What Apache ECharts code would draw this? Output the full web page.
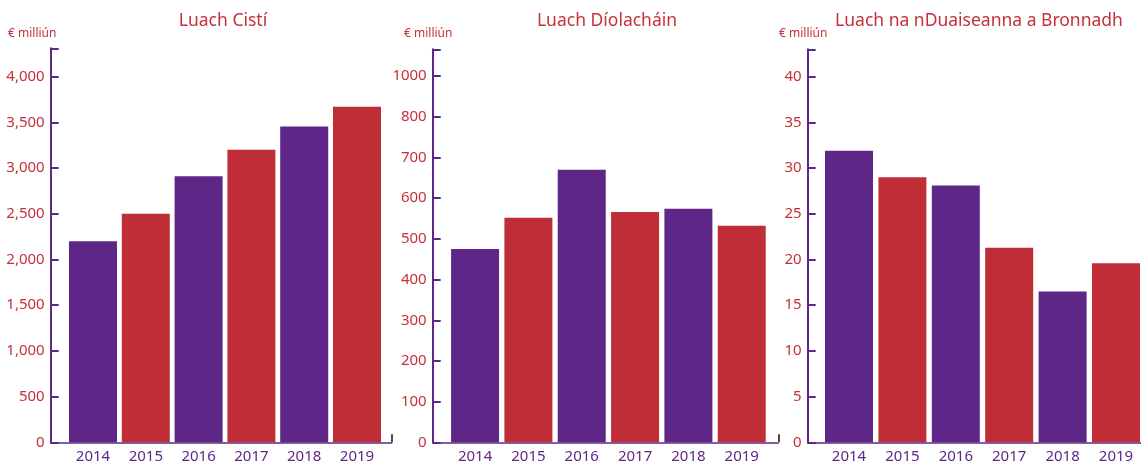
<!DOCTYPE html>
<html>
<head>
<meta charset="utf-8">
<script src="https://cdn.jsdelivr.net/npm/echarts@6/dist/echarts.min.js"></script>
<style>
  html, body { margin: 0; padding: 0; background: #fff; }
  #chart { width: 1141px; height: 461px; }
</style>
</head>
<body>
<div id="chart"></div>
<script>
const years = ['2014', '2015', '2016', '2017', '2018', '2019'];
const cisti = [2200, 2500, 2910, 3200, 3455, 3670];
const diolachain = [475, 552, 670, 566, 574, 532];
const duaiseanna = [31.9, 29, 28.1, 21.3, 16.5, 19.6];

const ticksCisti = ['0', '500', '1,000', '1,500', '2,000', '2,500', '3,000', '3,500', '4,000'];
const ticksDiol = ['0', '100', '200', '300', '400', '500', '600', '700', '800', '1000'];
const ticksDuais = ['0', '5', '10', '15', '20', '25', '30', '35', '40'];

const titles = ['Luach Cistí', 'Luach Díolacháin', 'Luach na nDuaiseanna a Bronnadh'];
const unit = '€ milliún';

const purple = '#5e2787';
const red = '#bf2d37';
const textRed = '#c5303b';
const font = 'Noto Sans';

// panel layout: bar grid, axis line position, decoration line grid
const panels = [
  { left: 66.6, width: 316.8, top: 48.3, axisX: 50.7, lineW: 341, max: 4310, step: 500, ticks: ticksCisti, data: cisti, titleX: 223, unitX: 8 },
  { left: 448.4, width: 320, top: 49.3, axisX: 432.7, lineW: 345.6, max: 966, step: 100, ticks: ticksDiol, data: diolachain, titleX: 607, unitX: 404 },
  { left: 822.3, width: 320.4, top: 49.3, axisX: 807.7, lineW: 340, max: 43, step: 5, ticks: ticksDuais, data: duaiseanna, titleX: 979, unitX: 779 }
];
const bottom = 18.7;

const chart = echarts.init(document.getElementById('chart'));

const title = [];
const grid = [];
const xAxis = [];
const yAxis = [];
const series = [];

panels.forEach((p, i) => {
  title.push({
    text: titles[i], left: p.titleX, top: 12, textAlign: 'center', padding: 0,
    textStyle: { color: textRed, fontSize: 17.5, fontWeight: 'normal', fontFamily: font }
  });
  title.push({
    text: unit, left: p.unitX, top: 28, padding: 0,
    textStyle: { color: textRed, fontSize: 12, fontWeight: 'normal', fontFamily: font }
  });

  // bar grid
  grid.push({ left: p.left, width: p.width, top: p.top, bottom: bottom, containLabel: false, outerBoundsMode: 'none' });
  // grid used only for the x axis line
  grid.push({ left: p.axisX, width: p.lineW, top: p.top, bottom: bottom, containLabel: false, outerBoundsMode: 'none' });

  xAxis.push({
    type: 'category', gridIndex: i * 2, data: years,
    axisLine: { show: false }, axisTick: { show: false },
    axisLabel: { color: purple, fontSize: 15, fontFamily: font, margin: 7 }
  });
  xAxis.push({
    type: 'category', gridIndex: i * 2 + 1, data: ['', ''], boundaryGap: false,
    axisLine: { show: true, lineStyle: { color: purple, width: 1.5 } },
    axisTick: { show: true, inside: true, length: 8, interval: (idx) => idx === 1, lineStyle: { color: '#111', width: 1.5 } },
    axisLabel: { show: false }
  });

  const ticks = p.ticks;
  const step = p.step;
  yAxis.push({
    type: 'value', gridIndex: i * 2, min: 0, max: p.max, interval: step,
    offset: p.left - p.axisX,
    axisLine: { show: true, lineStyle: { color: purple, width: 2 } },
    axisTick: { show: true, inside: true, length: 8, lineStyle: { color: purple, width: 2 } },
    axisLabel: {
      color: textRed, fontSize: 15, fontFamily: font, margin: 6,
      formatter: (v) => {
        const k = Math.round(v / step);
        return Math.abs(k * step - v) < 1e-6 && k < ticks.length ? ticks[k] : '';
      }
    },
    splitLine: { show: false }
  });
  yAxis.push({ type: 'value', gridIndex: i * 2 + 1, show: false });

  series.push({
    type: 'bar', xAxisIndex: i * 2, yAxisIndex: i * 2, data: p.data,
    barWidth: 48,
    itemStyle: { color: (d) => d.dataIndex % 2 === 0 ? purple : red },
    emphasis: { disabled: true }
  });
});

chart.setOption({
  animation: false,
  title: title,
  grid: grid,
  xAxis: xAxis,
  yAxis: yAxis,
  series: series
});
</script>
</body>
</html>
